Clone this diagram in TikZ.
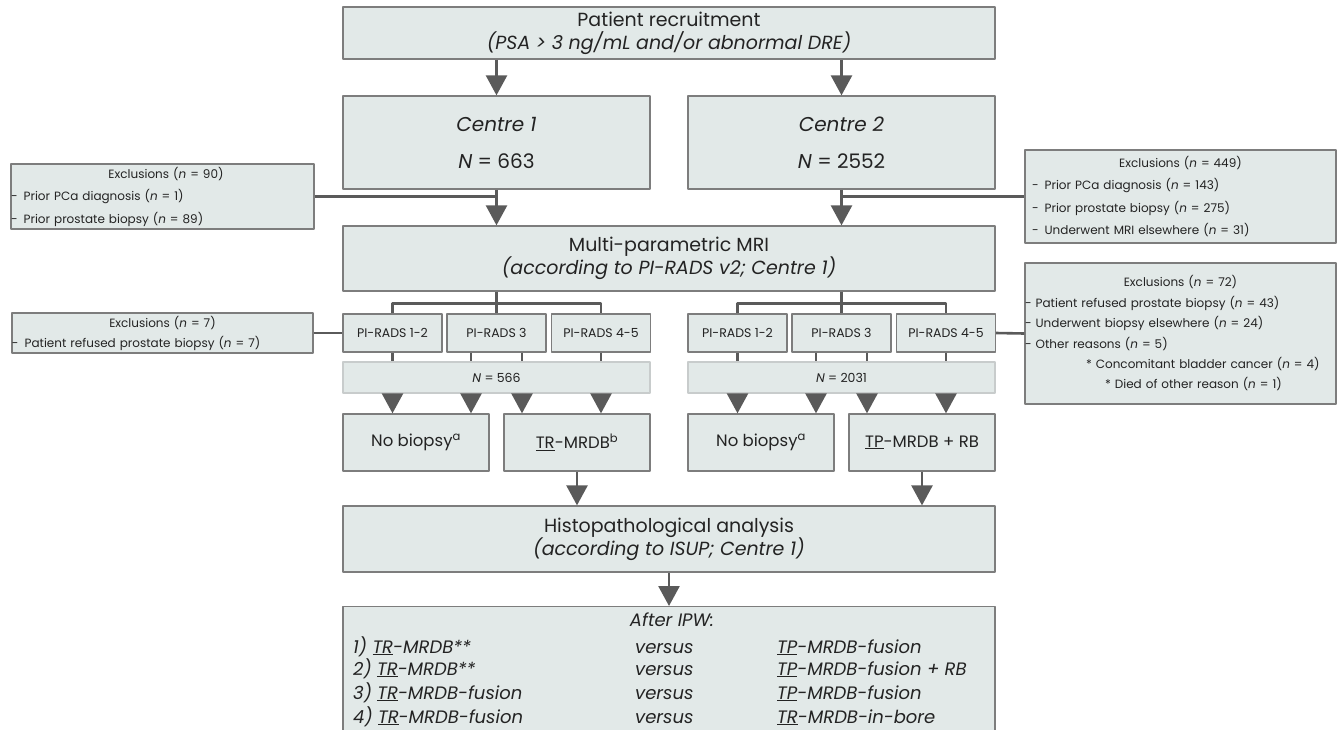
\documentclass[tikz,border=0pt]{standalone}
\usepackage{fontspec}
\setmainfont{Poppins}
\usetikzlibrary{arrows.meta}
\definecolor{boxfill}{RGB}{226,233,232}
\definecolor{boxline}{RGB}{125,125,125}
\definecolor{nline}{RGB}{200,204,204}
\definecolor{linkgrey}{RGB}{90,90,90}
\definecolor{txt}{RGB}{35,35,35}
\tikzset{
  box/.style={draw=boxline,fill=boxfill,line width=1.3pt,inner sep=0pt,align=center,text=txt,
    font=\fontsize{19}{23}\selectfont},
  nbox/.style={box,draw=nline,font=\fontsize{12.5}{15}\selectfont},
  pibox/.style={box,minimum width=99pt,minimum height=38pt,font=\fontsize{12.5}{15}\selectfont},
  biobox/.style={box,minimum width=146pt,minimum height=57pt,font=\fontsize{16.5}{20}\selectfont},
  exbox/.style={box,align=left,font=\fontsize{12}{22.5}\selectfont},
  rowtxt/.style={text=txt,inner sep=0pt,font=\fontsize{18}{20}\selectfont\itshape},
  link/.style={draw=linkgrey,line width=2.6pt},
  arr/.style={link,-{Triangle[width=21pt,length=20pt]}},
}
\begin{document}
\begin{tikzpicture}[x=1pt,y=-1pt,line join=round]
\useasboundingbox (0,0) rectangle (1343,729);
% main column
\node[box,minimum width=652pt,minimum height=52pt] (recruit) at (669,33)
  {Patient recruitment\\\textit{(PSA > 3 ng/mL and/or abnormal DRE)}};
\node[box,minimum width=307pt,minimum height=93pt,font=\fontsize{20}{24}\selectfont] (c1) at (496.5,142.5)
  {\textit{Centre 1}\\[13pt]\textit{N} = 663};
\node[box,minimum width=307pt,minimum height=93pt,font=\fontsize{20}{24}\selectfont] (c2) at (841.5,142.5)
  {\textit{Centre 2}\\[13pt]\textit{N} = 2552};
\node[box,minimum width=652pt,minimum height=65pt] (mri) at (669,258.5)
  {Multi-parametric MRI\\\textit{(according to PI-RADS v2; Centre 1)}};
% exclusions
\node[exbox,minimum height=65pt,text width=303pt] (ex1) at (162.5,196.5)
  {\makebox[\linewidth]{\hspace{7pt}Exclusions (\textit{n} = 90)}\\
   -\enspace Prior PCa diagnosis (\textit{n} = 1)\\
   -\enspace Prior prostate biopsy (\textit{n} = 89)};
\node[exbox,minimum height=93pt,text width=311pt] (ex2) at (1180.5,196.5)
  {\makebox[\linewidth]{Exclusions (\textit{n} = 449)}\\
   \hspace*{7pt}-\enspace Prior PCa diagnosis (\textit{n} = 143)\\
   \hspace*{7pt}-\enspace Prior prostate biopsy (\textit{n} = 275)\\
   \hspace*{7pt}-\enspace Underwent MRI elsewhere (\textit{n} = 31)};
\node[exbox,minimum height=40pt,text width=301pt,font=\fontsize{12}{20}\selectfont] (ex3) at (162.5,333)
  {\makebox[\linewidth]{Exclusions (\textit{n} = 7)}\\
   -\enspace Patient refused prostate biopsy (\textit{n} = 7)};
\node[exbox,minimum height=141pt,text width=311pt,font=\fontsize{12}{20.4}\selectfont] (ex4) at (1180.5,333.5)
  {\makebox[\linewidth]{Exclusions (\textit{n} = 72)}\\
   - Patient refused prostate biopsy (\textit{n} = 43)\\
   - Underwent biopsy elsewhere (\textit{n} = 24)\\
   - Other reasons (\textit{n} = 5)\\
   \hspace*{61pt}* Concomitant bladder cancer (\textit{n} = 4)\\
   \hspace*{80pt}* Died of other reason (\textit{n} = 1)};
% PI-RADS groups
\node[pibox] (p12a) at (392.5,333) {PI-RADS 1-2};
\node[pibox] (p3a) at (496.5,333) {PI-RADS 3};
\node[pibox] (p45a) at (601,333) {PI-RADS 4-5};
\node[pibox] (p12b) at (737.5,333) {PI-RADS 1-2};
\node[pibox] (p3b) at (841.5,333) {PI-RADS 3};
\node[pibox] (p45b) at (946,333) {PI-RADS 4-5};
\node[nbox,minimum width=307pt,minimum height=31pt] (na) at (496.5,377.5) {\textit{N} = 566};
\node[nbox,minimum width=307pt,minimum height=31pt] (nb) at (841.5,377.5) {\textit{N} = 2031};
% biopsy
\node[biobox] (nba) at (416,442.5) {No biopsy\textsuperscript{a}};
\node[biobox] (bxa) at (577,442.5) {\underline{TR}-MRDB\textsuperscript{b}};
\node[biobox] (nbb) at (761,442.5) {No biopsy\textsuperscript{a}};
\node[biobox] (bxb) at (922,442.5) {\underline{TP}-MRDB + RB};
\node[box,minimum width=652pt,minimum height=66pt] (histo) at (669,539)
  {Histopathological analysis\\\textit{(according to ISUP; Centre 1)}};
\node[box,minimum width=652pt,minimum height=134pt,anchor=north] (ipw) at (669,606) {};
% connectors
\draw[arr] (recruit.south -| c1.north) -- (c1.north);
\draw[arr] (recruit.south -| c2.north) -- (c2.north);
\draw[arr] (c1.south) -- (mri.north -| c1.south);
\draw[arr] (c2.south) -- (mri.north -| c2.south);
\draw[link] (ex1.east) -- (ex1.east -| c1.south);
\draw[link] (ex2.west) -- (ex2.west -| c2.south);
\draw[link] (ex3.east) -- (p12a.west);
\draw[link] (ex4.west) -- (p45b.east);
\foreach \s in {a,b}{
  \draw[link] (p3\s.north |- mri.south) -- (p3\s.north);
  \draw[link] (p12\s.north) -- ++(0,-10) -| (p45\s.north);
  \foreach \p/\dx in {p12\s/0,p3\s/-25.5,p3\s/25.5,p45\s/0}{
    \draw[link] ([xshift=\dx pt]\p.south) -- ([xshift=\dx pt]\p.south |- n\s.north);
    \draw[arr] ([xshift=\dx pt]\p.south |- n\s.south) -- ([xshift=\dx pt]\p.south |- nb\s.north);
  }
  \draw[arr] (bx\s.south) -- (histo.north -| bx\s.south);
}
\draw[arr] (histo.south) -- (ipw.north);
% comparisons after IPW
\node[rowtxt,anchor=base] (ipwhead) at (672,626) {After IPW:};
\foreach \i/\l/\r/\y in {1/{\underline{TR}-MRDB**}/{\underline{TP}-MRDB-fusion}/653,
  2/{\underline{TR}-MRDB**}/{\underline{TP}-MRDB-fusion + RB}/675,
  3/{\underline{TR}-MRDB-fusion}/{\underline{TP}-MRDB-fusion}/699,
  4/{\underline{TR}-MRDB-fusion}/{\underline{TR}-MRDB-in-bore}/723}{
  \node[rowtxt,anchor=base west] (left\i) at (353,\y) {\i) \l};
  \node[rowtxt,anchor=base west] (vs\i) at (635,\y) {versus};
  \node[rowtxt,anchor=base west] (right\i) at (777,\y) {\r};
}
\end{tikzpicture}
\end{document}
